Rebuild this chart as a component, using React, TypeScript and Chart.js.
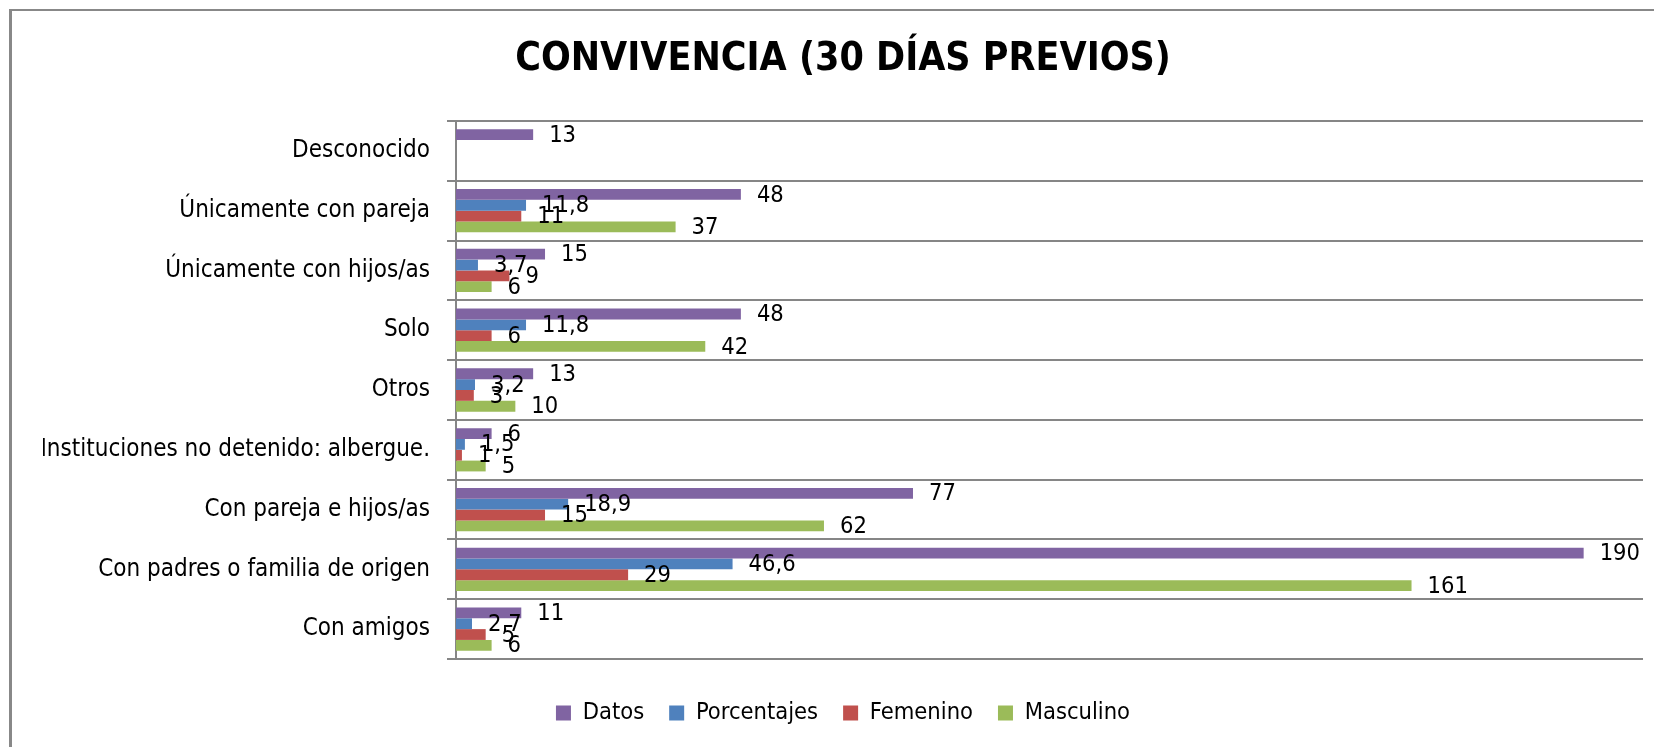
import React, { useEffect, useRef } from "react";
import { Chart, registerables } from "chart.js";

Chart.register(...registerables);

const categories = [
  "Desconocido",
  "Únicamente con pareja",
  "Únicamente con hijos/as",
  "Solo",
  "Otros",
  "Instituciones no detenido: albergue.",
  "Con pareja e hijos/as",
  "Con padres o familia de origen",
  "Con amigos",
];
const datos = [13, 48, 15, 48, 13, 6, 77, 190, 11];
const porcentajes = [null, 11.8, 3.7, 11.8, 3.2, 1.5, 18.9, 46.6, 2.7];
const femenino = [null, 11, 9, 6, 3, 1, 15, 29, 5];
const masculino = [null, 37, 6, 42, 10, 5, 62, 161, 6];
const seriesNames = ["Datos", "Porcentajes", "Femenino", "Masculino"];
const seriesColors = ["#8064A2", "#4F81BD", "#C0504D", "#9BBB59"];
const xMin = 0;
const xMax = 200;
const chartTitle = "CONVIVENCIA (30 DÍAS PREVIOS)";

const FONT = "'DejaVu Sans Condensed', 'Liberation Sans Narrow', 'Liberation Sans', sans-serif";
const W = 1654;
const H = 747;
const PAD_L = 43;
const PAD_R = 11;
const AXIS_X = 456;
const LABEL_SIZE = 23.5;

const fmt = (v: number) => String(v).replace(".", ",");

const valueLabels = {
  id: "valueLabels",
  afterDatasetsDraw(chart: any) {
    const ctx = chart.ctx;
    ctx.save();
    ctx.font = `${LABEL_SIZE}px ${FONT}`;
    ctx.fillStyle = "#000000";
    ctx.textAlign = "left";
    ctx.textBaseline = "middle";
    chart.data.datasets.forEach((ds: any, di: number) => {
      const meta = chart.getDatasetMeta(di);
      meta.data.forEach((el: any, i: number) => {
        const v = ds.data[i];
        if (v === null || v === undefined) return;
        ctx.fillText(fmt(v), el.x + 16, el.y + 1);
      });
    });
    ctx.restore();
  },
};

export default function App() {
  const ref = useRef<HTMLCanvasElement | null>(null);
  useEffect(() => {
    if (!ref.current) return;
    const seriesData = [datos, porcentajes, femenino, masculino];
    const chart = new Chart(ref.current, {
      type: "bar",
      data: {
        labels: categories,
        datasets: seriesNames.map((name, i) => ({
          label: name,
          data: seriesData[i] as any,
          backgroundColor: seriesColors[i],
          borderWidth: 0,
          categoryPercentage: 0.724,
          barPercentage: 1,
        })),
      },
      options: {
        indexAxis: "y",
        responsive: false,
        animation: false,
        devicePixelRatio: 1,
        layout: { padding: { left: PAD_L, right: PAD_R, top: 0, bottom: 12.25 } },
        scales: {
          x: {
            display: true,
            min: xMin,
            max: xMax,
            ticks: { display: false },
            grid: { display: false, drawTicks: false },
            border: { display: false },
            afterFit: (s: any) => {
              s.height = 17.25;
            },
          },
          y: {
            grid: {
              color: "#868686",
              lineWidth: 2,
              tickLength: 9,
              drawTicks: true,
              offset: true,
            },
            border: { display: true, color: "#868686", width: 2 },
            ticks: {
              color: "#000000",
              padding: 17,
              font: { family: FONT, size: 24 },
            },
            afterFit: (s: any) => {
              s.width = AXIS_X - PAD_L;
            },
          },
        },
        plugins: {
          title: {
            display: true,
            text: chartTitle,
            color: "#000000",
            font: { family: FONT, size: 39, weight: "bold", lineHeight: 1.2 },
            padding: { top: 36.8, bottom: 37.4 },
          },
          legend: {
            display: true,
            position: "bottom",
            labels: {
              boxWidth: 15,
              boxHeight: 15,
              padding: 25,
              color: "#000000",
              font: { family: FONT, size: LABEL_SIZE },
            },
          },
          tooltip: { enabled: false },
        },
      },
      plugins: [valueLabels],
    });
    return () => chart.destroy();
  }, []);

  return (
    <div
      style={{
        position: "fixed",
        left: 0,
        top: 0,
        width: W,
        height: H,
        overflow: "hidden",
        background: "#ffffff",
      }}
    >
      <canvas ref={ref} width={W} height={H} style={{ position: "absolute", left: 0, top: 0 }} />
      <div
        style={{
          position: "absolute",
          left: 9,
          top: 9,
          width: 1800,
          height: 900,
          borderLeft: "3px solid #888888",
          borderTop: "2px solid #888888",
          pointerEvents: "none",
        }}
      />
    </div>
  );
}
